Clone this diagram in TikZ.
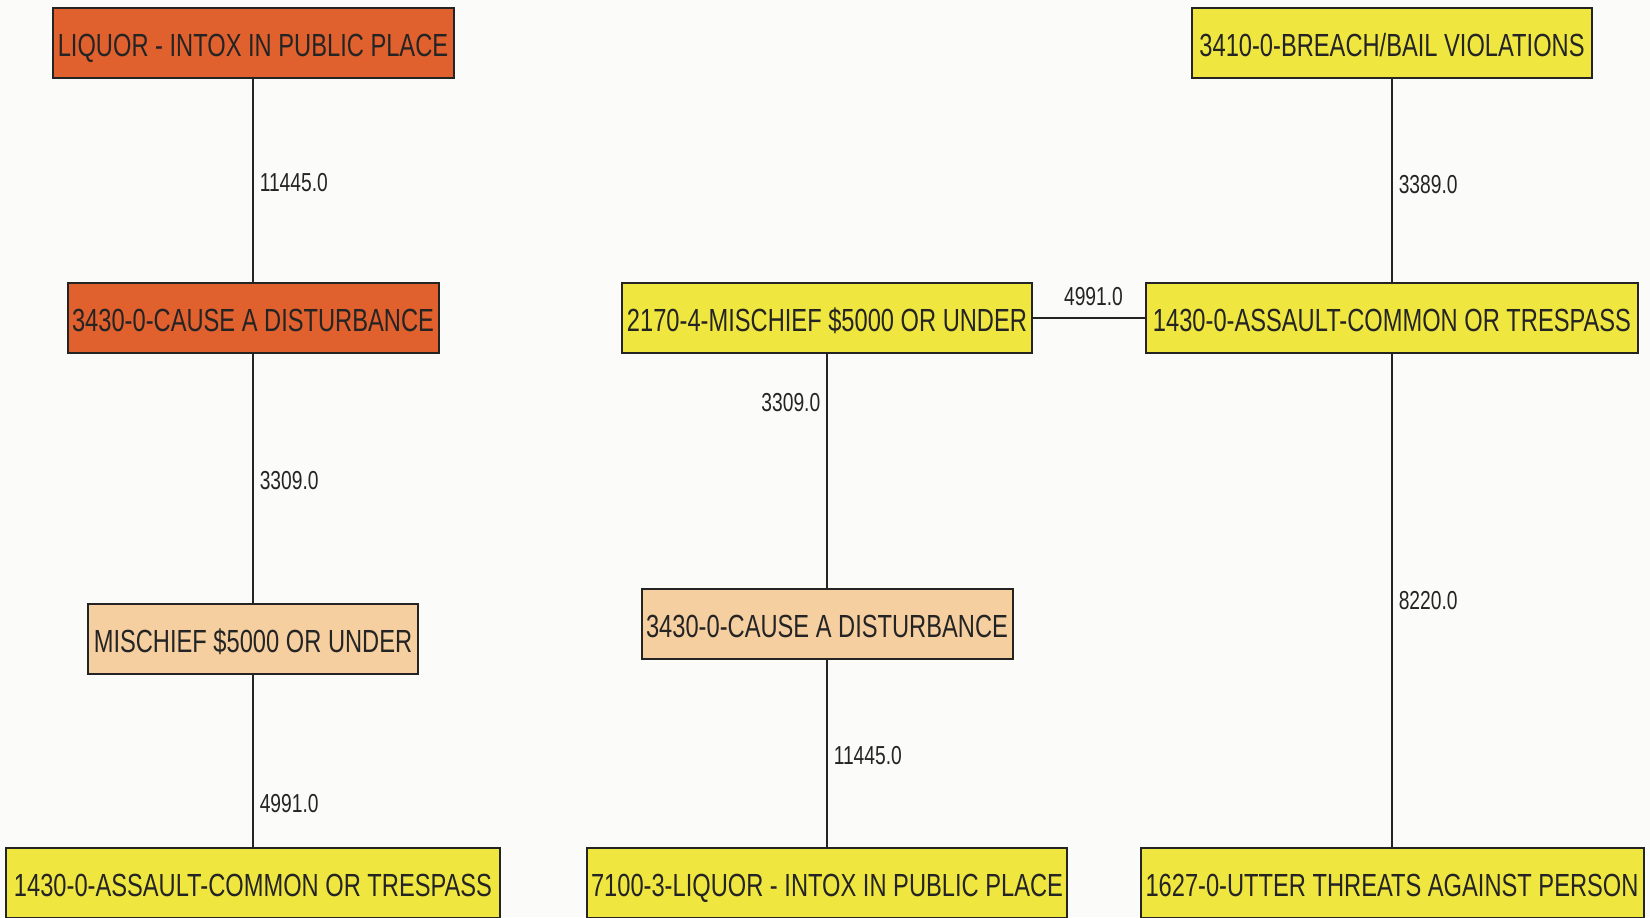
\documentclass[tikz,border=0pt]{standalone}
\usepackage{fontspec}
\setmainfont{Liberation Sans}[FakeStretch=0.74]
\usepackage{tikz}
\definecolor{bgpaper}{HTML}{FBFBF9}
\definecolor{hotbox}{HTML}{E0602E}
\definecolor{warmbox}{HTML}{F6CFA0}
\definecolor{coolbox}{HTML}{F0E640}
\definecolor{inkline}{HTML}{242424}
\tikzset{
  crime/.style={draw=inkline, line width=1pt, inner sep=0pt, minimum height=35pt,
    text height=13.5pt, text depth=0pt,
    font=\fontsize{16}{19}\selectfont, text=inkline},
  weight/.style={font=\fontsize{13}{15}\selectfont, text=inkline, inner sep=3pt},
  link/.style={-, inkline, line width=0.75pt}
}

\begin{document}
\begin{tikzpicture}[x=0.5pt, y=-0.5pt]
%SFONDO
\fill[bgpaper] (0,0) rectangle (1650,917);
\useasboundingbox (0,0) rectangle (1650,917);
%NODI
\node[crime, fill=hotbox, minimum width=200.5pt] (liq) at (253,42.5) {LIQUOR - INTOX IN PUBLIC PLACE};
\node[crime, fill=hotbox, minimum width=185.5pt] (dis) at (253,318) {3430-0-CAUSE A DISTURBANCE};
\node[crime, fill=warmbox, minimum width=165pt] (mis) at (253,638.5) {MISCHIEF \$5000 OR UNDER};
\node[crime, fill=coolbox, minimum width=247pt] (ass) at (253,883) {1430-0-ASSAULT-COMMON OR TRESPASS};
\node[crime, fill=coolbox, minimum width=205pt] (mis2) at (827,318) {2170-4-MISCHIEF \$5000 OR UNDER};
\node[crime, fill=warmbox, minimum width=185.5pt] (dis2) at (827,623.5) {3430-0-CAUSE A DISTURBANCE};
\node[crime, fill=coolbox, minimum width=240pt] (liq2) at (827,883) {7100-3-LIQUOR - INTOX IN PUBLIC PLACE};
\node[crime, fill=coolbox, minimum width=200pt] (bail) at (1392,42.5) {3410-0-BREACH/BAIL VIOLATIONS};
\node[crime, fill=coolbox, minimum width=246pt] (ass2) at (1392,318) {1430-0-ASSAULT-COMMON OR TRESPASS};
\node[crime, fill=coolbox, minimum width=251.5pt] (thr) at (1392,883) {1627-0-UTTER THREATS AGAINST PERSON};
%COLLEGAMENTI
\draw[link] (liq) -- node[weight, right, pos=0.51] {11445.0} (dis);
\draw[link] (dis) -- node[weight, right, pos=0.51] {3309.0} (mis);
\draw[link] (mis) -- node[weight, right, pos=0.75] {4991.0} (ass);
\draw[link] (mis2) -- node[weight, left, pos=0.21] {3309.0} (dis2);
\draw[link] (dis2) -- node[weight, right, pos=0.51] {11445.0} (liq2);
\draw[link] (mis2) -- node[weight, above=3pt, pos=0.54] {4991.0} (ass2);
\draw[link] (bail) -- node[weight, right, pos=0.52] {3389.0} (ass2);
\draw[link] (ass2) -- node[weight, right, pos=0.5] {8220.0} (thr);
\end{tikzpicture}
\end{document}
